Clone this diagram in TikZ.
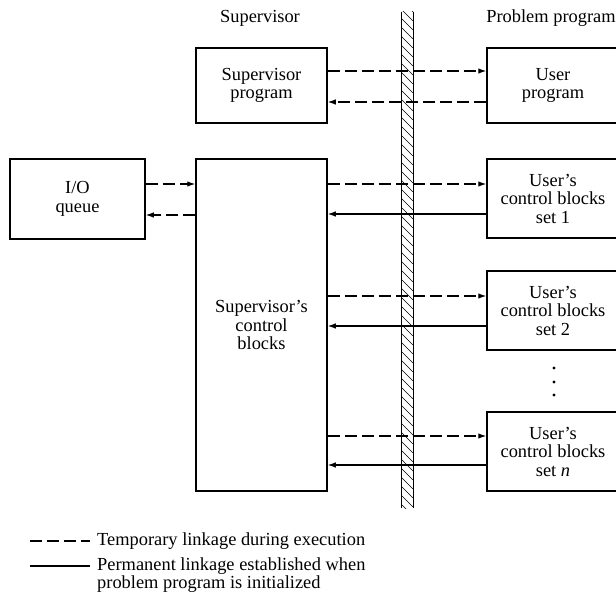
\documentclass[tikz,border=0pt]{standalone}
\usepackage{fontspec}
\setmainfont{Liberation Serif}
\usetikzlibrary{arrows.meta}
\begin{document}
\begin{tikzpicture}[x=1pt,y=-1pt,
  font=\fontsize{18.4}{18.5}\selectfont,
  blk/.style={draw,line width=1.5pt,align=center,inner sep=0pt},
  tmp/.style={line width=1.1pt,dash pattern=on 12pt off 5pt},
  perm/.style={line width=1.1pt},
  tip/.style={-{Latex[length=8pt,width=5.5pt]}}]
\useasboundingbox (0,0) rectangle (616,593);
\clip (0,0) rectangle (616,593);

% column headings
\node (hsup) at (260,18) {Supervisor};
\node (hprob) at (551,18) {Problem program};

% supervisor side
\node[blk,minimum width=131pt,minimum height=75pt] (sp) at (261.5,85.5) {Supervisor\\program};
\node[blk,minimum width=135pt,minimum height=80pt] (io) at (77.5,199) {I/O\\queue};
\node[blk,minimum width=131pt,minimum height=332pt] (scb) at (261.5,325) {Supervisor’s\\control\\blocks};

% problem program side (boxes run off the right edge)
\node[blk,minimum width=132pt,minimum height=75pt] (up) at (553,85.5) {User\\program};
\node[blk,minimum width=132pt,minimum height=79pt] (u1) at (553,198.5) {User’s\\control blocks\\set 1};
\node[blk,minimum width=132pt,minimum height=79pt] (u2) at (553,310.5) {User’s\\control blocks\\set 2};
\node[blk,minimum width=132pt,minimum height=79pt] (un) at (553,451.5) {User’s\\control blocks\\set \textit{n}};

% continuation dots
\foreach \yy in {368,382,395} \fill (554,\yy) circle (1.6pt);

% protection barrier
\begin{scope}
  \clip (401,12) rectangle (413,508);
  \foreach \yy in {0,9,...,520} \draw[line width=0.6pt] (401,\yy) -- (413,\yy+12);
\end{scope}
\draw[line width=1pt] (401,12) -- (401,508) (413,12) -- (413,508);

% supervisor program <-> user program
\draw[tmp,tip] ([yshift=14.5pt]sp.east) -- ([yshift=14.5pt]sp.east -| up.west);
\draw[tmp,tip] ([yshift=-16.5pt]up.west) -- ([yshift=-16.5pt]up.west -| sp.east);

% I/O queue <-> supervisor's control blocks
\draw[tmp,tip] ([yshift=15pt]io.east) -- ([yshift=15pt]io.east -| scb.west);
\draw[tmp,tip] ([yshift=-16pt]io.east -| scb.west) -- ([yshift=-16pt]io.east);

% supervisor's control blocks <-> user's control blocks
\foreach \u/\a/\b in {u1/14.5/-15.5, u2/14.5/-15.5, un/15.5/-13.5}{
  \draw[tmp,tip] ([yshift=\a pt]\u.west -| scb.east) -- ([yshift=\a pt]\u.west);
  \draw[perm,tip] ([yshift=\b pt]\u.west) -- ([yshift=\b pt]\u.west -| scb.east);
}

% legend
\coordinate (ta) at (30,541);
\coordinate (tb) at (90,541);
\coordinate (pa) at (30,566);
\coordinate (pb) at (90,566);
\draw[tmp] (ta) -- (tb);
\draw[perm] (pa) -- (pb);
\node[anchor=base west,inner sep=0pt] (lt) at (97,545) {Temporary linkage during execution};
\node[anchor=north west,align=left,inner sep=0pt,font=\fontsize{18.4}{18}\selectfont] (lp) at (97,557.5) {Permanent linkage established when\\problem program is initialized};
\end{tikzpicture}
\end{document}
